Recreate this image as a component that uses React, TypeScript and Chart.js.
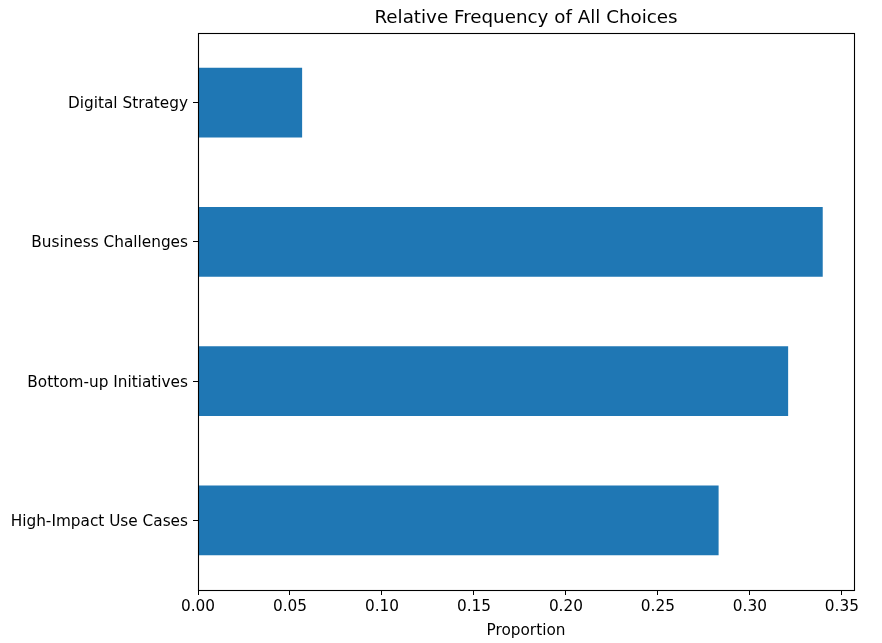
import React, { useEffect, useRef } from "react";
import { Chart, registerables } from "chart.js";

Chart.register(...registerables);

const categories = ["Digital Strategy", "Business Challenges", "Bottom-up Initiatives", "High-Impact Use Cases"];
const proportions = [0.0566, 0.3396, 0.3208, 0.283];
const xTickStep = 0.05;
const xMax = 0.3566;
const titleText = "Relative Frequency of All Choices";
const xTitle = "Proportion";

const FONT = "'DejaVu Sans', sans-serif";

const framePlugin = {
  id: "frame",
  afterDraw(chart: any) {
    const { ctx, chartArea } = chart;
    ctx.save();
    ctx.strokeStyle = "#000";
    ctx.lineWidth = 1.1;
    ctx.strokeRect(
      Math.round(chartArea.left) + 0.5,
      Math.round(chartArea.top) + 0.5,
      Math.round(chartArea.right - chartArea.left),
      Math.round(chartArea.bottom - chartArea.top)
    );
    ctx.restore();
  },
};

export default function App() {
  const ref = useRef<HTMLCanvasElement>(null);
  useEffect(() => {
    document.body.style.margin = "0";
    const chart = new Chart(ref.current!, {
      type: "bar",
      data: {
        labels: categories,
        datasets: [
          {
            data: proportions,
            backgroundColor: "#1f77b4",
            borderWidth: 0,
            barPercentage: 0.5,
            categoryPercentage: 1,
          },
        ],
      },
      plugins: [framePlugin],
      options: {
        indexAxis: "y",
        responsive: false,
        animation: false,
        layout: { padding: { left: 0, right: 28, top: 0, bottom: 0 } },
        plugins: {
          legend: { display: false },
          tooltip: { enabled: false },
          title: {
            display: true,
            fullSize: false,
            text: titleText,
            color: "#000",
            font: { family: FONT, size: 18.3, weight: "normal" },
            padding: { top: 7, bottom: 4 },
          },
        },
        scales: {
          x: {
            type: "linear",
            min: 0,
            max: xMax,
            afterFit: (s: any) => {
              s.height = 53;
            },
            ticks: {
              stepSize: xTickStep,
              includeBounds: false,
              color: "#000",
              font: { family: FONT, size: 15.3 },
              padding: 3,
              maxRotation: 0,
              callback: (v: any) => Number(v).toFixed(2),
            },
            grid: {
              drawOnChartArea: false,
              drawTicks: true,
              tickLength: 5,
              color: "#000",
              lineWidth: 1,
            },
            border: { display: false },
            title: {
              display: true,
              text: xTitle,
              color: "#000",
              font: { family: FONT, size: 15.3 },
              padding: { top: 0, bottom: 3 },
            },
          },
          y: {
            afterFit: (s: any) => {
              s.width = 198;
            },
            ticks: {
              color: "#000",
              font: { family: FONT, size: 15.3 },
              padding: 5,
              labelOffset: 1.5,
            },
            grid: {
              offset: false,
              drawOnChartArea: false,
              drawTicks: true,
              tickLength: 5,
              color: "#000",
              lineWidth: 1,
            },
            border: { display: false },
          },
        },
      },
    } as any);
    return () => chart.destroy();
  }, []);
  return <canvas ref={ref} width={882} height={643} style={{ display: "block" }} />;
}
